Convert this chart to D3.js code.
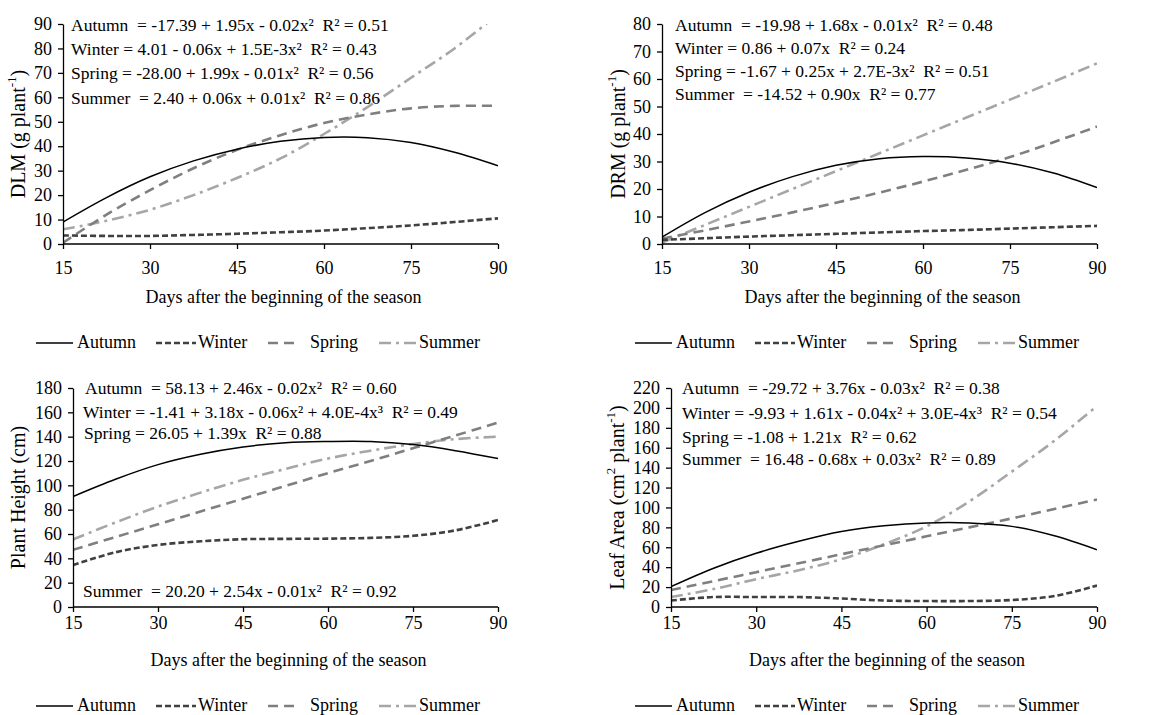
<!DOCTYPE html>
<html>
<head>
<meta charset="utf-8">
<script src="https://cdn.jsdelivr.net/npm/d3@7"></script>
<style>
  body { margin: 0; background: #fff; }
  text { font-family: "Liberation Serif", "Times New Roman", serif; fill: #000; }
  .axis path, .axis line { stroke: #000; stroke-width: 1.3; }
  .axis text { font-size: 18px; font-family: "Liberation Serif", serif; }
</style>
</head>
<body>
<svg id="chart" width="1170" height="715"></svg>
<script>
// days read on the x axis
var days = [15, 22.5, 30, 37.5, 45, 52.5, 60, 67.5, 75, 82.5, 90];
var xTicks = [15, 30, 45, 60, 75, 90];
var seasons = ['Autumn', 'Winter', 'Spring', 'Summer'];

// DLM (g plant-1)
var dlmAutumn = [9, 19, 27.5, 34, 38.8, 42, 43.6, 43.5, 41.5, 37.5, 32];
var dlmWinter = [3.5, 3.3, 3.3, 3.7, 4.2, 4.8, 5.5, 6.5, 7.6, 9, 10.5];
var dlmSpring = [0.5, 12, 22, 31, 38.5, 44.5, 49.5, 53, 55.5, 56.5, 56.5];
var dlmSummer = [6, 9.5, 14, 20, 27, 35, 45, 56, 68, 80, 94];

// DRM (g plant-1)
var drmAutumn = [2.5, 11.5, 18.8, 24.5, 28.6, 31, 31.8, 31.3, 29.4, 25.8, 20.5];
var drmWinter = [1.5, 2.1, 2.7, 3.2, 3.7, 4.2, 4.7, 5.1, 5.6, 6.1, 6.6];
var drmSpring = [2, 5, 8.2, 11.5, 15, 18.7, 22.7, 27, 31.6, 37, 42.7];
var drmSummer = [0.5, 7, 13.5, 20, 26.5, 33, 39.5, 46, 52.5, 59, 65.7];

// Plant height (cm)
var phAutumn = [90.8, 105, 117, 125.5, 131.5, 135, 136, 136, 133.5, 128.5, 122];
var phWinter = [34.5, 45, 51, 54, 55.7, 56, 56.2, 56.8, 58.5, 63, 71.5];
var phSpring = [47, 57.5, 68, 78.5, 89, 99.5, 110, 120, 130.5, 141, 151.5];
var phSummer = [55.5, 69.5, 82.5, 94, 104.5, 113.5, 122, 128.5, 134, 138, 140];

// Leaf area (cm2 plant-1)
var laAutumn = [20.5, 39, 54, 66, 75.8, 81.5, 84.5, 84.5, 81, 71.5, 57.5];
var laWinter = [6.5, 10, 10, 10, 8.5, 6.5, 6, 6, 7, 11, 21.5];
var laSpring = [17, 26, 35, 44, 53, 62, 71, 80, 89, 98.5, 108];
var laSummer = [10, 18, 28, 37, 48, 63, 81, 106, 136, 167, 202];

var dlmEq = ['Autumn  = -17.39 + 1.95x - 0.02x²  R² = 0.51',
             'Winter = 4.01 - 0.06x + 1.5E-3x²  R² = 0.43',
             'Spring = -28.00 + 1.99x - 0.01x²  R² = 0.56',
             'Summer  = 2.40 + 0.06x + 0.01x²  R² = 0.86'];
var drmEq = ['Autumn  = -19.98 + 1.68x - 0.01x²  R² = 0.48',
             'Winter = 0.86 + 0.07x  R² = 0.24',
             'Spring = -1.67 + 0.25x + 2.7E-3x²  R² = 0.51',
             'Summer  = -14.52 + 0.90x  R² = 0.77'];
var phEq = ['Autumn  = 58.13 + 2.46x - 0.02x²  R² = 0.60',
            'Winter = -1.41 + 3.18x - 0.06x² + 4.0E-4x³  R² = 0.49',
            'Spring = 26.05 + 1.39x  R² = 0.88',
            'Summer  = 20.20 + 2.54x - 0.01x²  R² = 0.92'];
var laEq = ['Autumn  = -29.72 + 3.76x - 0.03x²  R² = 0.38',
            'Winter = -9.93 + 1.61x - 0.04x² + 3.0E-4x³  R² = 0.54',
            'Spring = -1.08 + 1.21x  R² = 0.62',
            'Summer  = 16.48 - 0.68x + 0.03x²  R² = 0.89'];

var xTitle = 'Days after the beginning of the season';

// line style per season
var styles = {
  Autumn: {color: '#000000', width: 1.5, dash: null},
  Winter: {color: '#404040', width: 2.6, dash: '6,3'},
  Spring: {color: '#7f7f7f', width: 2.6, dash: '10,6'},
  Summer: {color: '#a6a6a6', width: 2.6, dash: '12,5,3,5'}
};

var panels = [
  {series: [dlmAutumn, dlmWinter, dlmSpring, dlmSummer], eq: dlmEq, yMax: 90, yStep: 10,
   yLabel: ['DLM (g plant', '-1', ')'],
   left: 63, right: 498, top: 24, bottom: 244, col: 0,
   tickLab: 24, titleY: 303, legendY: 348, ytX: 18,
   eqX: [71, 71, 71, 71], eqY: [31, 55, 79, 104]},
  {series: [drmAutumn, drmWinter, drmSpring, drmSummer], eq: drmEq, yMax: 80, yStep: 10,
   yLabel: ['DRM (g plant', '-1', ')'],
   left: 662, right: 1097, top: 24, bottom: 244, col: 585,
   tickLab: 24, titleY: 303, legendY: 348, ytX: 618,
   eqX: [675, 675, 675, 675], eqY: [31, 54, 77, 100]},
  {series: [phAutumn, phWinter, phSpring, phSummer], eq: phEq, yMax: 180, yStep: 20,
   yLabel: ['Plant Height (cm)', '', ''],
   left: 73, right: 498, top: 388, bottom: 607, col: 0,
   tickLab: 16, titleY: 666, legendY: 711, ytX: 18,
   eqX: [85, 83, 84, 83], eqY: [394, 418, 439, 597]},
  {series: [laAutumn, laWinter, laSpring, laSummer], eq: laEq, yMax: 220, yStep: 20,
   yLabel: ['Leaf Area (cm', '2', ' plant', '-1', ')'],
   left: 671, right: 1097, top: 388, bottom: 607, col: 585,
   tickLab: 16, titleY: 666, legendY: 711, ytX: 617,
   eqX: [682, 682, 682, 682], eqY: [394, 419, 443, 465]}
];

var svg = d3.select('#chart');
svg.append('rect').attr('width', 1170).attr('height', 715).attr('fill', '#fff');

panels.forEach(function(p, i) {
  var x = d3.scaleLinear().domain([15, 90]).range([p.left, p.right]);
  var y = d3.scaleLinear().domain([0, p.yMax]).range([p.bottom, p.top]);
  var g = svg.append('g');

  // clip so curves stay inside the plot
  svg.append('clipPath').attr('id', 'clip' + i)
    .append('rect')
      .attr('x', p.left).attr('y', p.top)
      .attr('width', p.right - p.left).attr('height', p.bottom - p.top);

  var line = d3.line()
    .x(function(d) { return x(d[0]); })
    .y(function(d) { return y(d[1]); })
    .curve(d3.curveCatmullRom.alpha(0.5));

  // draw light lines first so black stays on top
  [3, 2, 1, 0].forEach(function(k) {
    var st = styles[seasons[k]];
    var pts = days.map(function(d, j) { return [d, p.series[k][j]]; });
    g.append('path')
      .datum(pts)
      .attr('clip-path', 'url(#clip' + i + ')')
      .attr('fill', 'none')
      .attr('stroke', st.color)
      .attr('stroke-width', st.width)
      .attr('stroke-dasharray', st.dash)
      .attr('d', line);
  });

  // axes
  var yTicks = d3.range(0, p.yMax + 1, p.yStep);
  g.append('g')
    .attr('class', 'axis')
    .attr('transform', 'translate(' + p.left + ',0)')
    .call(d3.axisLeft(y).tickValues(yTicks).tickSize(5).tickSizeOuter(0).tickPadding(6));

  var xa = g.append('g')
    .attr('class', 'axis')
    .attr('transform', 'translate(0,' + p.bottom + ')')
    .call(d3.axisBottom(x).tickValues(xTicks).tickSize(5).tickSizeOuter(0).tickPadding(p.tickLab - 12));
  xa.selectAll('.domain').remove();
  xa.append('line').attr('x1', p.left).attr('x2', p.right).attr('stroke', '#000').attr('stroke-width', 1.3);

  // x title
  g.append('text')
    .attr('x', (p.left + p.right) / 2 + 3)
    .attr('y', p.titleY)
    .attr('text-anchor', 'middle')
    .style('font-size', '18px')
    .text(xTitle);

  // y title, rotated, with superscripts
  var yt = g.append('text')
    .attr('transform', 'translate(' + p.ytX + ',' + ((p.top + p.bottom) / 2) + ') rotate(-90)')
    .attr('text-anchor', 'middle')
    .attr('dominant-baseline', 'central')
    .style('font-size', '20px');
  p.yLabel.forEach(function(s, j) {
    if (!s) return;
    var sup = j % 2 === 1;
    yt.append('tspan')
      .attr('dy', sup ? -7 : (j > 0 ? 7 : 0))
      .style('font-size', sup ? '13px' : '20px')
      .text(s);
  });

  // regression equations
  p.eq.forEach(function(s, j) {
    g.append('text')
      .attr('x', p.eqX[j])
      .attr('y', p.eqY[j])
      .attr('xml:space', 'preserve')
      .style('white-space', 'pre')
      .style('font-size', '17.5px')
      .text(s);
  });

  // legend
  var lx = [0, 120, 232, 343];
  var lineLen = [37, 40, 29, 38];
  var textGap = [4, 2, 13, 2];
  seasons.forEach(function(s, k) {
    var st = styles[s];
    var x0 = p.col + (p.col ? 50 : 36) + lx[k];
    g.append('line')
      .attr('x1', x0).attr('x2', x0 + lineLen[k])
      .attr('y1', p.legendY - 5).attr('y2', p.legendY - 5)
      .attr('stroke', st.color)
      .attr('stroke-width', st.width)
      .attr('stroke-dasharray', st.dash);
    g.append('text')
      .attr('x', x0 + lineLen[k] + textGap[k])
      .attr('y', p.legendY)
      .style('font-size', '18px')
      .text(s);
  });
});
</script>
</body>
</html>
